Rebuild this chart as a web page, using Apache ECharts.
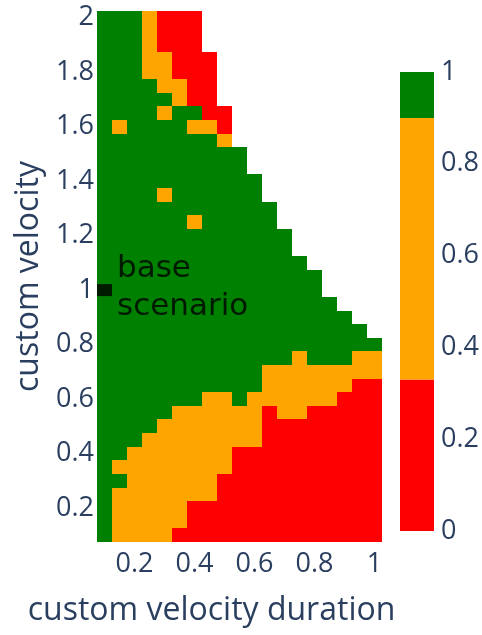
<!DOCTYPE html>
<html>
<head>
<meta charset="utf-8">
<script src="https://cdn.jsdelivr.net/npm/echarts@6/dist/echarts.min.js"></script>
<style>
  html, body { margin: 0; padding: 0; background: #fff; }
  #chart { width: 482px; height: 635px; }
</style>
</head>
<body>
<div id="chart"></div>
<script>
// Grid of simulated scenarios: custom velocity duration (x) by custom velocity (y)
const durations = ['0.1', '0.15', '0.2', '0.25', '0.3', '0.35', '0.4', '0.45', '0.5', '0.55',
  '0.6', '0.65', '0.7', '0.75', '0.8', '0.85', '0.9', '0.95', '1'];
const velocities = ['0.1', '0.15', '0.2', '0.25', '0.3', '0.35', '0.4', '0.45', '0.5', '0.55',
  '0.6', '0.65', '0.7', '0.75', '0.8', '0.85', '0.9', '0.95', '1', '1.05',
  '1.1', '1.15', '1.2', '1.25', '1.3', '1.35', '1.4', '1.45', '1.5', '1.55',
  '1.6', '1.65', '1.7', '1.75', '1.8', '1.85', '1.9', '1.95', '2'];

const xTickLabels = ['0.2', '0.4', '0.6', '0.8', '1'];
const yTickLabels = ['0.2', '0.4', '0.6', '0.8', '1', '1.2', '1.4', '1.6', '1.8', '2'];

// Outcome score per scenario; one row per velocity, lowest velocity first.
// A row stops where longer durations were not run.
const scoreRows = [
  [1, .5, .5, .5, .5, 0, 0, 0, 0, 0, 0, 0, 0, 0, 0, 0, 0, 0, 0],
  [1, .5, .5, .5, .5, .5, 0, 0, 0, 0, 0, 0, 0, 0, 0, 0, 0, 0, 0],
  [1, .5, .5, .5, .5, .5, 0, 0, 0, 0, 0, 0, 0, 0, 0, 0, 0, 0, 0],
  [1, .5, .5, .5, .5, .5, .5, .5, 0, 0, 0, 0, 0, 0, 0, 0, 0, 0, 0],
  [1, 1, .5, .5, .5, .5, .5, .5, 0, 0, 0, 0, 0, 0, 0, 0, 0, 0, 0],
  [1, .5, .5, .5, .5, .5, .5, .5, .5, 0, 0, 0, 0, 0, 0, 0, 0, 0, 0],
  [1, 1, .5, .5, .5, .5, .5, .5, .5, 0, 0, 0, 0, 0, 0, 0, 0, 0, 0],
  [1, 1, 1, .5, .5, .5, .5, .5, .5, .5, .5, 0, 0, 0, 0, 0, 0, 0, 0],
  [1, 1, 1, 1, .5, .5, .5, .5, .5, .5, .5, 0, 0, 0, 0, 0, 0, 0, 0],
  [1, 1, 1, 1, 1, .5, .5, .5, .5, .5, .5, 0, .5, .5, 0, 0, 0, 0, 0],
  [1, 1, 1, 1, 1, 1, 1, .5, .5, 1, .5, .5, .5, .5, .5, .5, 0, 0, 0],
  [1, 1, 1, 1, 1, 1, 1, 1, 1, 1, 1, .5, .5, .5, .5, .5, .5, 0, 0],
  [1, 1, 1, 1, 1, 1, 1, 1, 1, 1, 1, .5, .5, .5, .5, .5, .5, .5, .5],
  [1, 1, 1, 1, 1, 1, 1, 1, 1, 1, 1, 1, 1, .5, 1, 1, 1, .5, .5],
  [1, 1, 1, 1, 1, 1, 1, 1, 1, 1, 1, 1, 1, 1, 1, 1, 1, 1, 1],
  [1, 1, 1, 1, 1, 1, 1, 1, 1, 1, 1, 1, 1, 1, 1, 1, 1, 1],
  [1, 1, 1, 1, 1, 1, 1, 1, 1, 1, 1, 1, 1, 1, 1, 1, 1],
  [1, 1, 1, 1, 1, 1, 1, 1, 1, 1, 1, 1, 1, 1, 1, 1],
  [1, 1, 1, 1, 1, 1, 1, 1, 1, 1, 1, 1, 1, 1, 1],
  [1, 1, 1, 1, 1, 1, 1, 1, 1, 1, 1, 1, 1, 1, 1],
  [1, 1, 1, 1, 1, 1, 1, 1, 1, 1, 1, 1, 1, 1],
  [1, 1, 1, 1, 1, 1, 1, 1, 1, 1, 1, 1, 1],
  [1, 1, 1, 1, 1, 1, 1, 1, 1, 1, 1, 1, 1],
  [1, 1, 1, 1, 1, 1, .5, 1, 1, 1, 1, 1],
  [1, 1, 1, 1, 1, 1, 1, 1, 1, 1, 1, 1],
  [1, 1, 1, 1, .5, 1, 1, 1, 1, 1, 1],
  [1, 1, 1, 1, 1, 1, 1, 1, 1, 1, 1],
  [1, 1, 1, 1, 1, 1, 1, 1, 1, 1],
  [1, 1, 1, 1, 1, 1, 1, 1, 1, 1],
  [1, 1, 1, 1, 1, 1, 1, 1, .5],
  [1, .5, 1, 1, 1, 1, .5, .5, 0],
  [1, 1, 1, 1, .5, 1, 1, 0, 0],
  [1, 1, 1, 1, 1, .5, 0, 0],
  [1, 1, 1, 1, .5, .5, 0, 0],
  [1, 1, 1, .5, .5, 0, 0, 0],
  [1, 1, 1, .5, .5, 0, 0, 0],
  [1, 1, 1, .5, 0, 0, 0],
  [1, 1, 1, .5, 0, 0, 0],
  [1, 1, 1, .5, 0, 0, 0]
];

// Discrete colour scale shared by the cells and the colour bar
const bandEdges = [0, 0.33, 0.9, 1];
const bandColors = ['#ff0000', '#ffa500', '#008000'];
const colorbarTicks = [0, 0.2, 0.4, 0.6, 0.8, 1];

const baseScenario = { duration: '0.1', velocity: '1', text: 'base\nscenario' };

const textColor = '#2a3f5f';
const tickFont = { color: textColor, fontFamily: 'Open Sans', fontSize: 27 };
const titleFont = { color: textColor, fontFamily: 'Open Sans', fontSize: 32 };

const cells = [];
scoreRows.forEach((row, yi) => {
  row.forEach((v, xi) => cells.push([xi, yi, v]));
});

const pieces = bandColors.map((c, i) => {
  const p = { gte: bandEdges[i], color: c };
  if (i < bandColors.length - 1) p.lt = bandEdges[i + 1]; else p.lte = bandEdges[i + 1];
  return p;
});

const bands = bandColors.map((c, i) => ({ value: [0, bandEdges[i], bandEdges[i + 1]], itemStyle: { color: c } }));

// One filled cell per scenario; edges snapped to whole pixels so neighbours meet without seams
function renderCell(params, api) {
  const c = api.coord([api.value(0), api.value(1)]);
  const s = api.size([1, 1]);
  const x0 = Math.round(c[0] - s[0] / 2), x1 = Math.round(c[0] + s[0] / 2);
  const y0 = Math.round(c[1] - s[1] / 2), y1 = Math.round(c[1] + s[1] / 2);
  return {
    type: 'rect',
    shape: { x: x0, y: y0, width: x1 - x0, height: y1 - y0 },
    style: { fill: api.visual('color') }
  };
}

const chart = echarts.init(document.getElementById('chart'), null, { renderer: 'canvas' });
chart.setOption({
  animation: false,
  backgroundColor: '#ffffff',
  grid: [
    { left: 97, top: 11, width: 285, height: 531 },
    { left: 400, top: 72, width: 34, height: 459 }
  ],
  xAxis: [
    {
      type: 'category', gridIndex: 0, data: durations,
      axisLine: { show: false }, axisTick: { show: false }, splitLine: { show: false },
      axisLabel: Object.assign({ interval: (i, v) => xTickLabels.includes(v), margin: 9 }, tickFont),
      name: 'custom velocity duration', nameLocation: 'middle', nameGap: 53,
      nameTextStyle: Object.assign({ padding: [0, 56, 0, 0] }, titleFont)
    },
    { type: 'category', gridIndex: 1, data: ['scale'], show: false }
  ],
  yAxis: [
    {
      type: 'category', gridIndex: 0, data: velocities,
      axisLine: { show: false }, axisTick: { show: false }, splitLine: { show: false },
      axisLabel: Object.assign({ interval: (i, v) => yTickLabels.includes(v), margin: 3 }, tickFont),
      name: 'custom velocity', nameLocation: 'middle', nameGap: 52,
      nameTextStyle: titleFont
    },
    {
      type: 'value', gridIndex: 1, position: 'right', min: 0, max: 1, interval: 0.2,
      axisLine: { show: false }, axisTick: { show: false }, splitLine: { show: false },
      axisLabel: Object.assign({ margin: 7, customValues: colorbarTicks }, tickFont)
    }
  ],
  visualMap: {
    type: 'piecewise', show: false, seriesIndex: 0, dimension: 2, pieces: pieces
  },
  series: [
    {
      type: 'custom', xAxisIndex: 0, yAxisIndex: 0, data: cells, silent: true,
      encode: { x: 0, y: 1 },
      renderItem: renderCell
    },
    {
      type: 'scatter', xAxisIndex: 0, yAxisIndex: 0, silent: true, z: 5,
      data: [[durations.indexOf(baseScenario.duration), velocities.indexOf(baseScenario.velocity)]],
      symbol: 'rect', symbolSize: [15, 12],
      itemStyle: { color: '#000000' },
      label: {
        show: true, position: 'right', distance: 5, offset: [0, -2],
        formatter: baseScenario.text, color: '#000000',
        fontFamily: 'DejaVu Sans', fontSize: 31, lineHeight: 38, align: 'left'
      }
    },
    {
      type: 'custom', xAxisIndex: 1, yAxisIndex: 1, silent: true,
      data: bands,
      encode: { x: 0, y: [1, 2] },
      renderItem: (params, api) => {
        const lo = api.coord([0, api.value(1)]);
        const hi = api.coord([0, api.value(2)]);
        const w = api.size([1, 0])[0];
        return {
          type: 'rect',
          shape: { x: lo[0] - w / 2, y: hi[1], width: w, height: lo[1] - hi[1] },
          style: { fill: api.visual('color') }
        };
      }
    }
  ]
});
</script>
</body>
</html>
